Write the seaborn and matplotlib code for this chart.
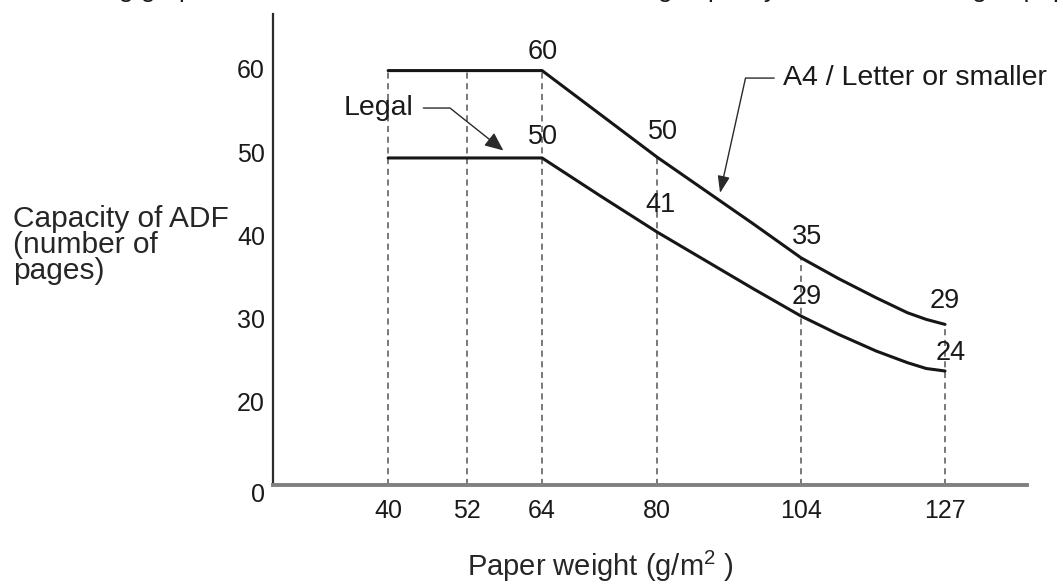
import numpy as np
import pandas as pd
import seaborn as sns
import matplotlib.pyplot as plt
from matplotlib.transforms import ScaledTranslation

# values
paper_weight = [40, 52, 64, 72, 80, 88, 96, 104, 110, 116, 121, 124, 127]
a4_capacity = [59.8, 59.8, 59.8, 54.6, 49.4, 45.4, 41.4, 37.3, 34.8, 32.5, 30.7, 29.9, 29.3]
legal_capacity = [49.3, 49.3, 49.3, 44.8, 40.4, 37.0, 33.6, 30.3, 28.1, 26.1, 24.7, 24.0, 23.7]

marked_weights = [40, 52, 64, 80, 104, 127]
label_weights = [64, 80, 104, 127]
a4_labels = [60, 50, 35, 29]
legal_labels = [50, 41, 29, 24]

ytick_values = [10, 20, 30, 40, 50, 60]
ytick_labels = ["0", "20", "30", "40", "50", "60"]

# the drawing does not space the weights evenly, so the x axis uses a
# piecewise linear scale through the positions of the marked weights
knot_w = np.array([0, 40, 52, 64, 80, 104, 127, 200], dtype=float)
knot_p = np.array([124.8, 388, 467, 542, 657, 801, 945, 1402], dtype=float)


def fwd(w):
    return np.interp(w, knot_w, knot_p)


def inv(p):
    return np.interp(p, knot_p, knot_w)


sns.set_theme(style="white")
plt.rcParams["font.family"] = ["Liberation Sans", "DejaVu Sans"]
plt.rcParams["text.color"] = "#1a1a1a"
plt.rcParams["mathtext.fontset"] = "custom"
plt.rcParams["mathtext.rm"] = "Liberation Sans"
plt.rcParams["mathtext.it"] = "Liberation Sans"

df = pd.DataFrame({
    "weight": paper_weight * 2,
    "capacity": a4_capacity + legal_capacity,
    "size": ["A4"] * len(paper_weight) + ["Legal"] * len(paper_weight),
})

fig = plt.figure(figsize=(10.63, 5.87), dpi=100)
ax = fig.add_axes([273 / 1063, 1 - 485 / 587, 754 / 1063, 471 / 587])
ax.set_xscale("function", functions=(fwd, inv))

# dashed guide lines from the axis up to the A4 curve
top_at = dict(zip(paper_weight, a4_capacity))
ax.vlines(marked_weights, 10, [top_at[w] for w in marked_weights],
          colors="#555555", linewidth=1.1, linestyles=(0, (4, 3)), zorder=1)

sns.lineplot(data=df, x="weight", y="capacity", hue="size",
             palette={"A4": "#161616", "Legal": "#161616"},
             linewidth=2.2, legend=False, ax=ax, zorder=3)

ax.set_xlim(22.5, 140.1)
ax.set_ylim(10, 66.6)

ax.set_xticks(marked_weights)
ax.set_xticklabels([str(w) for w in marked_weights], fontsize=18)
ax.xaxis.set_minor_locator(plt.NullLocator())
ax.set_yticks(ytick_values)
ax.set_yticklabels(ytick_labels, fontsize=18)
ax.tick_params(axis="x", length=0, pad=10, colors="#1a1a1a")
ax.tick_params(axis="y", direction="in", length=12.7, width=1.1,
               color="#b5b5b5", pad=5.8, labelcolor="#1a1a1a")
zero = ax.get_yticklabels()[0]
zero.set_transform(zero.get_transform()
                   + ScaledTranslation(0, -8 / 100, fig.dpi_scale_trans))

for s in ["top", "right"]:
    ax.spines[s].set_visible(False)
ax.spines["left"].set_color("#2b2b2b")
ax.spines["left"].set_linewidth(1.6)
ax.spines["bottom"].set_color("#808080")
ax.spines["bottom"].set_linewidth(2.8)
ax.grid(False)

ax.set_xlabel("Paper weight (g/m$^{2}$ )", fontsize=21)
ax.xaxis.set_label_coords(0.434, -0.136)
ax.set_ylabel("Capacity of ADF\n(number of\npages)", fontsize=21.5,
              rotation=0, ha="left", va="center", multialignment="left",
              linespacing=0.9)
ax.yaxis.set_label_coords(-0.345, 0.51)

# value labels next to the curves
a4_offsets = [(1, 19), (6, 25), (6, 21), (0, 23)]
legal_offsets = [(1, 21), (3, 27), (6, 19), (6, 18)]
a4_at = dict(zip(paper_weight, a4_capacity))
legal_at = dict(zip(paper_weight, legal_capacity))
for w, lab, off in zip(label_weights, a4_labels, a4_offsets):
    ax.annotate(str(lab), (w, a4_at[w]), xytext=off, textcoords="offset pixels",
                ha="center", va="center", fontsize=19.5)
for w, lab, off in zip(label_weights, legal_labels, legal_offsets):
    ax.annotate(str(lab), (w, legal_at[w]), xytext=off, textcoords="offset pixels",
                ha="center", va="center", fontsize=19.5)

# series call-outs
ax.annotate("Legal", xy=(57.8, 50.2), xytext=(43.8, 55.3),
            ha="right", va="center", fontsize=20.5,
            arrowprops=dict(arrowstyle="-|>,head_length=0.55,head_width=0.24",
                            color="#2a2a2a", lw=1.0, shrinkA=5, shrinkB=0,
                            connectionstyle="angle,angleA=0,angleB=141.5,rad=0"))
ax.annotate("A4 / Letter or smaller", xy=(90.5, 45.1), xytext=(101.0, 58.9),
            ha="left", va="center", fontsize=20.5, annotation_clip=False,
            arrowprops=dict(arrowstyle="-|>,head_length=0.5,head_width=0.18",
                            color="#2a2a2a", lw=1.0, shrinkA=4, shrinkB=0,
                            connectionstyle="angle,angleA=180,angleB=77.5,rad=0"))

# sentence above the chart, cut off by the top edge
fig.text(-22 / 1063, 1 + 2.5 / 587,
         "The following graph shows the maximum document loading capacity "
         "of ADF according to paper weight.",
         ha="left", va="baseline", fontsize=19)

fig.savefig("out.png", dpi=100, facecolor="white")
